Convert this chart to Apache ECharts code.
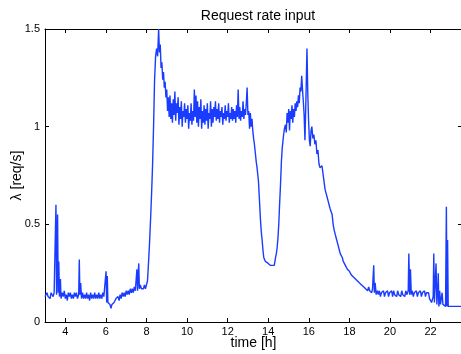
<!DOCTYPE html>
<html>
<head>
<meta charset="utf-8">
<title>Request rate input</title>
<script src="https://cdn.jsdelivr.net/npm/echarts@6/dist/echarts.min.js"></script>
<style>
  html, body { margin: 0; padding: 0; background: #fff; }
  #chart { width: 461px; height: 354px; }
</style>
</head>
<body>
<div id="chart"></div>
<script>
// 数据 (time in hours, rate in req/s)
const hours = [
  3.00, 3.05, 3.10, 3.15, 3.20, 3.25, 3.30, 3.35, 3.40, 3.45, 3.50, 3.54, 3.57, 3.62, 3.65, 3.68, 3.71, 3.76, 3.79,
  3.85, 3.90, 3.95, 4.00, 4.05, 4.10, 4.15, 4.20, 4.25, 4.30, 4.35, 4.40, 4.45, 4.50, 4.55, 4.60, 4.66, 4.69, 4.72,
  4.76, 4.80, 4.85, 4.90, 4.95, 5.00, 5.05, 5.10, 5.15, 5.20, 5.25, 5.30, 5.35, 5.40, 5.45, 5.50, 5.55, 5.60, 5.65,
  5.70, 5.75, 5.80, 5.85, 5.90, 5.95, 5.99, 6.01, 6.04, 6.07, 6.10, 6.15, 6.20, 6.25, 6.30, 6.35, 6.40, 6.45, 6.50,
  6.55, 6.60, 6.65, 6.70, 6.75, 6.80, 6.85, 6.90, 6.95, 7.00, 7.05, 7.10, 7.15, 7.20, 7.25, 7.30, 7.35, 7.40, 7.45,
  7.50, 7.53, 7.56, 7.62, 7.65, 7.70, 7.75, 7.80, 7.85, 7.90, 7.95, 8.00, 8.05, 8.10, 8.15, 8.20, 8.25, 8.30, 8.35,
  8.40, 8.45, 8.50, 8.55, 8.60, 8.64, 8.68, 8.72, 8.76, 8.80, 8.84, 8.88, 8.92, 8.96, 9.00, 9.04, 9.08, 9.12, 9.16,
  9.20, 9.24, 9.28, 9.32, 9.36, 9.40, 9.44, 9.48, 9.52, 9.56, 9.60, 9.64, 9.68, 9.72, 9.76, 9.80, 9.84, 9.88, 9.92,
  9.96, 10.00, 10.04, 10.08, 10.12, 10.16, 10.20, 10.24, 10.28, 10.32, 10.36, 10.40, 10.44, 10.48, 10.52, 10.56,
  10.60, 10.64, 10.68, 10.72, 10.76, 10.80, 10.84, 10.88, 10.92, 10.96, 11.00, 11.04, 11.08, 11.12, 11.16, 11.20,
  11.24, 11.28, 11.32, 11.36, 11.40, 11.44, 11.48, 11.52, 11.56, 11.60, 11.64, 11.68, 11.72, 11.76, 11.80, 11.84,
  11.88, 11.92, 11.96, 12.00, 12.04, 12.08, 12.12, 12.16, 12.20, 12.24, 12.28, 12.32, 12.36, 12.40, 12.44, 12.48,
  12.52, 12.56, 12.60, 12.64, 12.68, 12.72, 12.76, 12.80, 12.84, 12.88, 12.92, 12.96, 13.00, 13.04, 13.08, 13.12,
  13.16, 13.20, 13.24, 13.28, 13.32, 13.37, 13.41, 13.45, 13.49, 13.52, 13.57, 13.62, 13.66, 13.70, 13.74, 13.78,
  13.82, 13.86, 13.90, 13.95, 14.00, 14.05, 14.10, 14.15, 14.20, 14.25, 14.30, 14.36, 14.40, 14.44, 14.48, 14.52,
  14.56, 14.60, 14.65, 14.69, 14.73, 14.76, 14.80, 14.85, 14.89, 14.93, 14.97, 15.01, 15.05, 15.09, 15.13, 15.17,
  15.21, 15.25, 15.29, 15.33, 15.37, 15.41, 15.45, 15.49, 15.53, 15.57, 15.61, 15.65, 15.69, 15.73, 15.77, 15.81,
  15.85, 15.88, 15.91, 15.95, 15.99, 16.03, 16.07, 16.11, 16.15, 16.20, 16.25, 16.30, 16.35, 16.40, 16.45, 16.50,
  16.55, 16.60, 16.65, 16.70, 16.75, 16.80, 16.85, 16.90, 16.95, 17.00, 17.05, 17.10, 17.15, 17.20, 17.25, 17.30,
  17.35, 17.40, 17.45, 17.50, 17.55, 17.60, 17.65, 17.70, 17.75, 17.80, 17.85, 17.90, 17.95, 18.00, 18.05, 18.10,
  18.15, 18.20, 18.25, 18.30, 18.35, 18.40, 18.45, 18.50, 18.55, 18.60, 18.65, 18.70, 18.75, 18.80, 18.85, 18.90,
  18.95, 19.00, 19.05, 19.10, 19.14, 19.17, 19.20, 19.23, 19.27, 19.32, 19.38, 19.43, 19.48, 19.53, 19.58, 19.63,
  19.68, 19.73, 19.78, 19.83, 19.88, 19.93, 19.98, 20.03, 20.08, 20.13, 20.18, 20.23, 20.28, 20.33, 20.38, 20.43,
  20.48, 20.53, 20.58, 20.63, 20.68, 20.73, 20.78, 20.83, 20.87, 20.90, 20.93, 20.97, 21.01, 21.05, 21.10, 21.15,
  21.20, 21.25, 21.30, 21.35, 21.40, 21.45, 21.50, 21.55, 21.60, 21.65, 21.70, 21.75, 21.80, 21.85, 21.90, 21.95,
  22.00, 22.05, 22.10, 22.13, 22.16, 22.19, 22.23, 22.27, 22.31, 22.35, 22.38, 22.41, 22.45, 22.49, 22.53, 22.57,
  22.61, 22.65, 22.70, 22.74, 22.78, 22.81, 22.84, 22.87, 22.90, 22.94, 23.00, 23.10, 23.20, 23.30, 23.40, 23.55
];
const rate = [
  0.13, 0.12, 0.15, 0.13, 0.14, 0.12, 0.15, 0.14, 0.13, 0.15, 0.14, 0.60, 0.14, 0.55, 0.15, 0.31, 0.13, 0.22, 0.12,
  0.15, 0.13, 0.16, 0.12, 0.14, 0.11, 0.15, 0.13, 0.15, 0.12, 0.14, 0.12, 0.15, 0.13, 0.15, 0.12, 0.14, 0.32, 0.14,
  0.20, 0.12, 0.15, 0.12, 0.14, 0.12, 0.15, 0.12, 0.14, 0.11, 0.15, 0.12, 0.14, 0.12, 0.15, 0.12, 0.14, 0.12, 0.15,
  0.12, 0.14, 0.12, 0.15, 0.13, 0.14, 0.14, 0.26, 0.10, 0.235, 0.10, 0.10, 0.09, 0.07, 0.09, 0.08, 0.10, 0.09, 0.12,
  0.11, 0.13, 0.11, 0.14, 0.12, 0.15, 0.13, 0.15, 0.13, 0.16, 0.14, 0.16, 0.14, 0.17, 0.15, 0.17, 0.15, 0.18, 0.16,
  0.17, 0.27, 0.16, 0.30, 0.17, 0.19, 0.17, 0.18, 0.17, 0.19, 0.17, 0.19, 0.21, 0.30, 0.40, 0.52, 0.65, 0.80, 1.00,
  1.24, 1.36, 1.40, 1.36, 1.50, 1.38, 1.42, 1.30, 1.33, 1.24, 1.28, 1.20, 1.23, 1.15, 1.19, 1.08, 1.15, 1.05, 1.16,
  1.04, 1.12, 1.02, 1.14, 1.06, 1.18, 1.03, 1.12, 1.07, 1.15, 1.01, 1.10, 1.04, 1.13, 1.00, 1.08, 1.05, 1.12, 1.02,
  1.09, 1.04, 1.11, 0.99, 1.07, 1.03, 1.12, 1.01, 1.08, 1.03, 1.19, 1.05, 1.16, 1.02, 1.13, 1.00,
  1.10, 1.04, 1.14, 0.99, 1.08, 1.02, 1.11, 1.01, 1.09, 1.03, 1.12, 0.99, 1.07, 1.04, 1.13, 1.00,
  1.09, 1.02, 1.10, 1.05, 1.13, 1.03, 1.09, 1.04, 1.12, 1.02, 1.08, 1.05, 1.10, 1.01, 1.07, 1.04,
  1.11, 1.03, 1.08, 1.05, 1.12, 1.02, 1.07, 1.04, 1.10, 1.03, 1.09, 1.04, 1.08, 1.02, 1.11, 1.05,
  1.19, 1.04, 1.10, 1.03, 1.08, 1.05, 1.13, 1.04, 1.09, 1.06, 1.12, 1.20, 1.06, 1.08, 0.99, 1.07,
  1.00, 1.04, 0.98, 0.94, 0.91, 0.86, 0.82, 0.79, 0.75, 0.72, 0.62, 0.52, 0.46, 0.42, 0.37, 0.33,
  0.32, 0.31, 0.30, 0.31, 0.30, 0.31, 0.29, 0.28, 0.29, 0.30, 0.29, 0.33, 0.35, 0.38, 0.43, 0.50,
  0.60, 0.69, 0.82, 0.89, 0.93, 0.96, 0.99, 1.01, 0.97, 1.07, 1.02, 1.09, 0.98, 1.08, 1.04, 1.11,
  1.02, 1.09, 1.05, 1.12, 1.08, 1.13, 1.10, 1.16, 1.12, 1.20, 1.18, 1.26, 1.19, 1.13, 1.06, 0.93,
  1.10, 1.25, 1.40, 1.17, 1.03, 0.93, 0.90, 0.98, 1.00, 0.94, 0.96, 0.91, 0.93, 0.86, 0.88, 0.81,
  0.79, 0.78, 0.80, 0.76, 0.77, 0.68, 0.66, 0.64, 0.62, 0.60, 0.58, 0.57, 0.55, 0.50, 0.47, 0.45,
  0.43, 0.41, 0.40, 0.37, 0.35, 0.34, 0.33, 0.31, 0.30, 0.29, 0.28, 0.27, 0.26, 0.26, 0.25, 0.24,
  0.245, 0.23, 0.24, 0.22, 0.225, 0.21, 0.22, 0.20, 0.21, 0.19, 0.20, 0.18, 0.19, 0.17, 0.18, 0.16,
  0.18, 0.16, 0.17, 0.15, 0.17, 0.16, 0.29, 0.15, 0.20, 0.14, 0.16, 0.14, 0.16, 0.13, 0.15, 0.14,
  0.16, 0.13, 0.15, 0.14, 0.16, 0.13, 0.15, 0.14, 0.16, 0.13, 0.16, 0.14, 0.15, 0.13, 0.16, 0.14,
  0.15, 0.13, 0.16, 0.14, 0.15, 0.13, 0.16, 0.14, 0.15, 0.16, 0.35, 0.14, 0.27, 0.14, 0.16, 0.13,
  0.15, 0.14, 0.16, 0.13, 0.15, 0.14, 0.16, 0.13, 0.15, 0.14, 0.16, 0.13, 0.15, 0.14, 0.15, 0.12,
  0.11, 0.10, 0.10, 0.13, 0.35, 0.10, 0.09, 0.30, 0.09, 0.16, 0.25, 0.08, 0.16, 0.09, 0.08, 0.15,
  0.09, 0.08, 0.09, 0.08, 0.59, 0.08, 0.42, 0.08, 0.08, 0.08, 0.08, 0.08, 0.08, 0.08, 0.08, 0.08
];
const xTicks = [4, 6, 8, 10, 12, 14, 16, 18, 20, 22];

const points = hours.map((h, i) => [h, rate[i]]);

const FONT = 'Liberation Sans';
const tickStyle = { show: true, inside: true, length: 4, lineStyle: { color: '#000' } };
const lineAxis = { show: true, lineStyle: { color: '#000', width: 1 } };

var myChart = echarts.init(document.getElementById('chart'));
myChart.setOption({
  animation: false,
  title: {
    text: 'Request rate input',
    left: 253,
    textAlign: 'center',
    top: 4,
    textStyle: { fontFamily: FONT, fontSize: 14, fontWeight: 'normal', color: '#000' }
  },
  grid: { left: 45, top: 29, right: -1, bottom: 32, outerBoundsMode: 'none', containLabel: false },
  xAxis: [
    {
      type: 'value', min: 3, max: 23.55, position: 'bottom',
      name: 'time [h]', nameLocation: 'middle', nameGap: 14, nameMoveOverlap: false,
      nameTextStyle: { fontFamily: FONT, fontSize: 14, color: '#000' },
      axisLine: Object.assign({ onZero: false }, lineAxis),
      axisTick: Object.assign({ customValues: xTicks }, tickStyle),
      axisLabel: { customValues: xTicks, margin: 4, fontFamily: FONT, fontSize: 11, color: '#000' },
      splitLine: { show: false }
    },
    {
      type: 'value', min: 3, max: 23.55, position: 'top',
      axisLine: Object.assign({ onZero: false }, lineAxis),
      axisTick: Object.assign({ customValues: xTicks }, tickStyle),
      axisLabel: { show: false },
      splitLine: { show: false }
    }
  ],
  yAxis: [
    {
      type: 'value', min: 0, max: 1.5, interval: 0.5, position: 'left',
      name: 'λ [req/s]', nameLocation: 'middle', nameGap: 28, nameMoveOverlap: false,
      nameTextStyle: { fontFamily: FONT, fontSize: 14, color: '#000', verticalAlign: 'middle' },
      axisLine: Object.assign({ onZero: false }, lineAxis),
      axisTick: tickStyle,
      axisLabel: { margin: 5, fontFamily: FONT, fontSize: 11, color: '#000' },
      splitLine: { show: false }
    },
    {
      type: 'value', min: 0, max: 1.5, interval: 0.5, position: 'right',
      axisLine: Object.assign({ onZero: false }, lineAxis),
      axisTick: tickStyle,
      axisLabel: { show: false },
      splitLine: { show: false }
    }
  ],
  series: [
    {
      name: 'rate',
      type: 'line',
      xAxisIndex: 0,
      yAxisIndex: 0,
      data: points,
      showSymbol: false,
      lineStyle: { color: '#1a3cff', width: 1.4 }
    }
  ]
});
</script>
</body>
</html>
